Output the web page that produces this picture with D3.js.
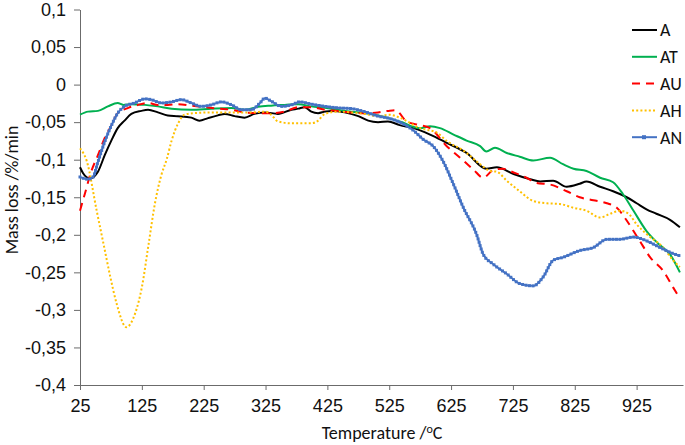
<!DOCTYPE html>
<html>
<head>
<meta charset="utf-8">
<script src="https://cdn.jsdelivr.net/npm/d3@7"></script>
<style>
  body { margin: 0; background: #fff; }
  svg { font-family: Carlito, Calibri, Lato, sans-serif; }
  .axis path, .axis line { stroke: #6b6b6b; }
  .axis text { fill: #111; font-size: 18px; }
</style>
</head>
<body>
<svg id="chart" width="685" height="445"></svg>
<script>
var aT = [25, 30, 41, 54, 65, 76, 86, 97, 108, 124, 135, 151, 167, 183, 205, 218, 232, 248, 259, 275, 291, 307, 324, 345, 367, 378, 388, 399, 410, 421, 431, 453, 475, 491, 507, 523, 542, 564, 591, 618, 650, 682, 699, 726, 753, 769, 790, 812, 833, 844, 866, 887, 909, 925, 941, 957, 979, 995];
var aV = [-0.110, -0.118, -0.125, -0.116, -0.094, -0.074, -0.058, -0.048, -0.039, -0.035, -0.0335, -0.037, -0.041, -0.042, -0.044, -0.048, -0.0446, -0.041, -0.039, -0.042, -0.044, -0.039, -0.037, -0.039, -0.0335, -0.032, -0.030, -0.036, -0.038, -0.036, -0.035, -0.037, -0.042, -0.048, -0.050, -0.049, -0.054, -0.058, -0.0665, -0.0775, -0.091, -0.112, -0.110, -0.119, -0.126, -0.129, -0.128, -0.136, -0.132, -0.129, -0.136, -0.142, -0.150, -0.158, -0.166, -0.172, -0.180, -0.190];

var atT = [25, 38, 54, 70, 86, 95, 108, 130, 151, 173, 205, 237, 270, 291, 313, 334, 356, 378, 399, 421, 442, 464, 485, 507, 525, 542, 575, 591, 607, 629, 650, 672, 682, 696, 715, 736, 758, 785, 806, 823, 844, 866, 887, 903, 920, 941, 963, 979, 995];
var atV = [-0.040, -0.036, -0.035, -0.029, -0.0245, -0.027, -0.026, -0.027, -0.029, -0.032, -0.0335, -0.032, -0.031, -0.0335, -0.0295, -0.028, -0.027, -0.026, -0.029, -0.031, -0.0335, -0.036, -0.038, -0.041, -0.045, -0.049, -0.058, -0.0555, -0.058, -0.0665, -0.0745, -0.082, -0.089, -0.084, -0.091, -0.096, -0.101, -0.0975, -0.106, -0.112, -0.115, -0.124, -0.130, -0.146, -0.168, -0.195, -0.214, -0.226, -0.250];

var auT = [25, 33, 43, 54, 65, 76, 86, 103, 119, 135, 151, 167, 184, 205, 227, 248, 270, 291, 313, 334, 356, 378, 399, 421, 442, 464, 485, 507, 523, 535, 553, 569, 591, 618, 639, 661, 677, 693, 709, 726, 747, 763, 785, 812, 833, 855, 877, 893, 909, 920, 930, 947, 968, 984, 995];
var auV = [-0.168, -0.145, -0.116, -0.094, -0.071, -0.054, -0.038, -0.031, -0.027, -0.0245, -0.027, -0.027, -0.026, -0.028, -0.030, -0.032, -0.0335, -0.037, -0.038, -0.038, -0.036, -0.030, -0.030, -0.0335, -0.035, -0.037, -0.038, -0.037, -0.035, -0.034, -0.049, -0.053, -0.058, -0.082, -0.097, -0.113, -0.124, -0.114, -0.112, -0.117, -0.124, -0.131, -0.133, -0.142, -0.150, -0.154, -0.158, -0.164, -0.181, -0.195, -0.208, -0.230, -0.248, -0.270, -0.285];

var ahT = [25, 36, 52, 63, 74, 84, 100, 114, 125, 136, 146, 157, 165, 173, 184, 194, 210, 240, 270, 300, 325, 334, 345, 367, 399, 410, 421, 442, 464, 485, 507, 525, 542, 575, 602, 618, 645, 672, 688, 699, 715, 736, 758, 780, 801, 823, 844, 866, 882, 898, 912, 925, 941, 968, 984, 995];
var ahV = [-0.085, -0.102, -0.168, -0.212, -0.256, -0.291, -0.323, -0.305, -0.270, -0.212, -0.159, -0.119, -0.100, -0.075, -0.051, -0.040, -0.038, -0.037, -0.037, -0.037, -0.036, -0.040, -0.049, -0.0515, -0.0515, -0.048, -0.039, -0.036, -0.037, -0.039, -0.042, -0.040, -0.044, -0.058, -0.064, -0.075, -0.088, -0.106, -0.115, -0.116, -0.128, -0.142, -0.155, -0.158, -0.159, -0.164, -0.168, -0.177, -0.172, -0.168, -0.172, -0.186, -0.199, -0.217, -0.234, -0.243];

var anT = [25, 38, 46, 54, 65, 76, 86, 97, 113, 130, 140, 157, 173, 189, 205, 221, 237, 254, 270, 286, 302, 316, 324, 334, 351, 367, 380, 399, 421, 442, 464, 485, 507, 525, 542, 564, 580, 596, 612, 629, 645, 666, 677, 693, 715, 736, 758, 774, 790, 806, 833, 855, 877, 898, 920, 941, 963, 984, 995];
var anV = [-0.123, -0.126, -0.123, -0.103, -0.076, -0.054, -0.038, -0.029, -0.0245, -0.019, -0.020, -0.0245, -0.023, -0.020, -0.0245, -0.029, -0.027, -0.023, -0.027, -0.0335, -0.0335, -0.0245, -0.018, -0.022, -0.029, -0.027, -0.023, -0.026, -0.029, -0.031, -0.032, -0.036, -0.042, -0.045, -0.050, -0.061, -0.073, -0.082, -0.102, -0.133, -0.164, -0.199, -0.226, -0.239, -0.252, -0.265, -0.268, -0.256, -0.234, -0.230, -0.221, -0.217, -0.206, -0.206, -0.203, -0.208, -0.217, -0.225, -0.228];

var xTicks = [25, 125, 225, 325, 425, 525, 625, 725, 825, 925];
var yTicks = [0.1, 0.05, 0, -0.05, -0.1, -0.15, -0.2, -0.25, -0.3, -0.35, -0.4];

var series = [
    { name: 'A',  t: aT,  v: aV,  color: '#000000', dash: null },
    { name: 'AT', t: atT, v: atV, color: '#00b050', dash: null },
    { name: 'AU', t: auT, v: auV, color: '#ff0000', dash: '8,6' },
    { name: 'AH', t: ahT, v: ahV, color: '#ffc000', dash: '2,2.2' },
    { name: 'AN', t: anT, v: anV, color: '#4472c4', dash: null, square: true }
];

var svg = d3.select('#chart');

var x = d3.scaleLinear().domain([25, 1000]).range([80, 683]);
var y = d3.scaleLinear().domain([-0.4, 0.1]).range([385, 9.5]);

var fmt = function (d) {
    var s = String(Math.round(d * 100) / 100);
    return s.replace('.', ',');
};

svg.append('g')
    .attr('class', 'axis')
    .attr('transform', 'translate(80,0)')
    .call(d3.axisLeft(y).tickValues(yTicks).tickFormat(fmt).tickSize(6).tickSizeOuter(0).tickPadding(8));

svg.append('g')
    .attr('class', 'axis')
    .attr('transform', 'translate(0,385)')
    .call(d3.axisBottom(x).tickValues(xTicks).tickSize(5).tickSizeOuter(0).tickPadding(9));

var line = d3.line()
    .x(function (d) { return x(d[0]); })
    .y(function (d) { return y(d[1]); })
    .curve(d3.curveMonotoneX);

series.forEach(function (s) {
    var pts = s.t.map(function (t, i) { return [t, s.v[i]]; });
    var path = svg.append('path')
        .datum(pts)
        .attr('fill', 'none')
        .attr('stroke', s.color)
        .attr('stroke-width', s.square ? 1.8 : 2)
        .attr('stroke-dasharray', s.dash)
        .attr('d', line);

    if (s.square) {
        // small square markers along the line, as in the original
        var node = path.node();
        var len = node.getTotalLength();
        var marks = [];
        for (var l = 0; l <= len; l += 3.5) {
            marks.push(node.getPointAtLength(l));
        }
        svg.append('g').selectAll('rect')
            .data(marks)
            .enter().append('rect')
            .attr('x', function (p) { return p.x - 1.5; })
            .attr('y', function (p) { return p.y - 1.5; })
            .attr('width', 3)
            .attr('height', 3)
            .attr('fill', s.color);
    }
});

// legend
var legend = svg.append('g');
series.forEach(function (s, i) {
    var ly = 30 + i * 26.8;
    legend.append('line')
        .attr('x1', 632).attr('x2', 657)
        .attr('y1', ly).attr('y2', ly)
        .attr('stroke', s.color)
        .attr('stroke-width', 2)
        .attr('stroke-dasharray', s.dash);
    if (s.square) {
        legend.append('rect')
            .attr('x', 642).attr('y', ly - 2)
            .attr('width', 4).attr('height', 4)
            .attr('fill', s.color);
    }
    legend.append('text')
        .attr('x', 660).attr('y', ly)
        .attr('dy', '0.35em')
        .attr('font-size', 18)
        .attr('fill', '#111')
        .text(s.name);
});

svg.append('text')
    .attr('transform', 'translate(18,190) rotate(-90)')
    .attr('text-anchor', 'middle')
    .attr('font-size', 18)
    .attr('fill', '#111')
    .text('Mass loss /%/min');

var xt = svg.append('text')
    .attr('x', 382).attr('y', 439)
    .attr('text-anchor', 'middle')
    .attr('font-size', 18)
    .attr('fill', '#111');
xt.append('tspan').text('Temperature /');
xt.append('tspan').attr('font-size', 12).attr('dy', -6).text('o');
xt.append('tspan').attr('dy', 6).text('C');
</script>
</body>
</html>
